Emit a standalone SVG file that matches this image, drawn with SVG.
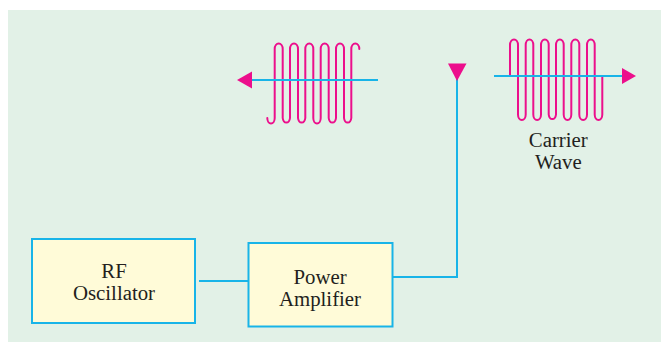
<svg xmlns="http://www.w3.org/2000/svg" width="661" height="342" viewBox="0 0 661 342">
<style>
.box{fill:#fffbd8;stroke:#18b4e8;stroke-width:2}
.wire{fill:none;stroke:#18b4e8;stroke-width:2}
.wave{fill:none;stroke:#ec0f8c;stroke-width:2;stroke-linecap:round}
.head{fill:#ec0f8c}
text{font-family:"Liberation Serif","Times New Roman",serif;font-size:20.8px;fill:#231f20;text-anchor:middle}
</style>
<rect width="661" height="342" fill="#ffffff"/>
<rect x="8" y="10" width="653" height="332" fill="#e2f1e7"/>
<g id="waves">
<path class="wave" d="M267.3 118 A3.7 5.500 0 0 0 274.700 118 V49 A4 5.500 0 0 1 282.700 49 V118 A3.700 5.500 0 0 0 290 118 V49 A4 5.500 0 0 1 298 49 V118 A3.700 5.500 0 0 0 305.300 118 V49 A4 5.500 0 0 1 313.300 49 V118 A3.700 5.500 0 0 0 320.700 118 V49 A4 5.500 0 0 1 328.700 49 V118 A3.700 5.500 0 0 0 336 118 V49 A4 5.500 0 0 1 344 49 V118 A3.700 5.500 0 0 0 351.300 118 V49 A4 5.500 0 0 1 359.300 49"/>
<path class="wave" d="M510 76 V45 A4 5.500 0 0 1 518 45 V114.500 A3.800 5.500 0 0 0 525.700 114.500 V45 A3.800 5.500 0 0 1 533.300 45 V114.500 A3.800 5.500 0 0 0 541 114.500 V45 A3.800 5.500 0 0 1 548.700 45 V114.500 A3.700 5.500 0 0 0 556 114.500 V45 A3.800 5.500 0 0 1 563.700 45 V114.500 A3.800 5.500 0 0 0 571.300 114.500 V45 A4 5.500 0 0 1 579.300 45 V114.500 A3.800 5.500 0 0 0 587 114.500 V45 A3.800 5.500 0 0 1 594.700 45 V114.500 A3.800 5.500 0 0 0 602.300 114.500 V76"/>
</g>
<g id="connectors">
<path class="wire" d="M378 80 H250"/>
<path class="head" d="M237 80 L252 71.500 V88.500 Z"/>
<path class="wire" d="M494 76 H624"/>
<path class="head" d="M636 76 L622 68 V84 Z"/>
<path class="wire" d="M199 281 H248"/>
<path class="wire" d="M393 277 H457 V78"/>
<path class="head" d="M457 81 L448 63.500 H466.500 Z"/>
</g>
<g id="rf-oscillator">
<rect class="box" x="32" y="239" width="163" height="84"/>
<text x="114" y="278">RF</text>
<text x="114" y="300">Oscillator</text>
</g>
<g id="power-amplifier">
<rect class="box" x="248.500" y="243" width="144" height="83.500"/>
<text x="320" y="284">Power</text>
<text x="320" y="305.500">Amplifier</text>
</g>
<g id="carrier-wave-label">
<text x="558.300" y="147">Carrier</text>
<text x="558.300" y="168.500">Wave</text>
</g>
</svg>
